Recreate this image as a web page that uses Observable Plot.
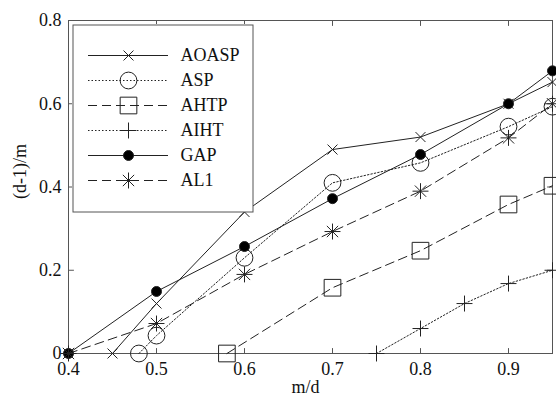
<!DOCTYPE html>
<html>
<head>
<meta charset="utf-8">
<script src="https://cdn.jsdelivr.net/npm/d3@7"></script>
<script src="https://cdn.jsdelivr.net/npm/@observablehq/plot@0.6"></script>
<style>
  body { margin: 0; background: #fff; }
  #chart { position: relative; width: 556px; height: 398px; overflow: hidden; background: #fff; }
  #legend { position: absolute; left: 72px; top: 24px; }
  svg { overflow: visible; }
  #chart svg, #chart svg text { font-family: "Liberation Serif", "Times New Roman", Tinos, "Noto Serif", "DejaVu Serif", "Nimbus Roman", FreeSerif, serif !important; font-size: 18px; }
</style>
</head>
<body>
<div id="chart"><div id="legend"></div></div>
<script>
// ---------- data ----------
const seriesNames = ["AOASP", "ASP", "AHTP", "AIHT", "GAP", "AL1"];

const mdAOASP = [0.45, 0.5, 0.6, 0.7, 0.8, 0.9, 0.95];
const valAOASP = [0, 0.12, 0.34, 0.49, 0.52, 0.60, 0.652];

const mdASP = [0.48, 0.5, 0.6, 0.7, 0.8, 0.9, 0.95];
const valASP = [0, 0.043, 0.23, 0.41, 0.458, 0.545, 0.593];

const mdAHTP = [0.58, 0.7, 0.8, 0.9, 0.95];
const valAHTP = [0, 0.158, 0.247, 0.358, 0.403];

const mdAIHT = [0.75, 0.8, 0.85, 0.9, 0.95];
const valAIHT = [0, 0.06, 0.12, 0.168, 0.2];

const mdGAP = [0.4, 0.5, 0.6, 0.7, 0.8, 0.9, 0.95];
const valGAP = [0, 0.149, 0.257, 0.372, 0.478, 0.60, 0.679];

const mdAL1 = [0.4, 0.5, 0.6, 0.7, 0.8, 0.9, 0.95];
const valAL1 = [0, 0.072, 0.19, 0.293, 0.39, 0.518, 0.60];

const xTicks = [0.4, 0.5, 0.6, 0.7, 0.8, 0.9];
const xTickLabels = ["0.4", "0.5", "0.6", "0.7", "0.8", "0.9"];
const yTicks = [0, 0.2, 0.4, 0.6, 0.8];
const yTickLabels = ["0", "0.2", "0.4", "0.6", "0.8"];
const xDomain = [0.4, 0.95];
const yDomain = [0, 0.8];
const xLabel = "m/d";
const yLabel = "(d-1)/m";

// ---------- styles ----------
const lineColor = "#222";
const frameColor = "#555";
const font = "'Liberation Serif', 'Times New Roman', Tinos, 'Noto Serif', 'DejaVu Serif', serif";
const DOT = "1.5,2";
const DASH = "9,5";

const seriesData = {
  AOASP: [mdAOASP, valAOASP],
  ASP: [mdASP, valASP],
  AHTP: [mdAHTP, valAHTP],
  AIHT: [mdAIHT, valAIHT],
  GAP: [mdGAP, valGAP],
  AL1: [mdAL1, valAL1]
};
const seriesStyle = {
  AOASP: {dash: null, markers: [{symbol: "times", r: 4.6}]},
  ASP:   {dash: DOT,  markers: [{symbol: "circle", r: 8.4}]},
  AHTP:  {dash: DASH, markers: [{symbol: "square", r: 9.4}]},
  AIHT:  {dash: DOT,  markers: [{symbol: "plus", r: 5.2}]},
  GAP:   {dash: null, markers: [{symbol: "circle", r: 5, fill: "black"}]},
  AL1:   {dash: DASH, markers: [{symbol: "plus", r: 5.2}, {symbol: "times", r: 5.2}]}
};

// ---------- main chart ----------
const tickShape = {draw(ctx, l) { ctx.moveTo(0, 0); ctx.lineTo(0, -l); }};
const marks = [];
marks.push(Plot.frame({stroke: frameColor}));
const tickOpts = {length: 5, anchor: "start", shape: tickShape, stroke: frameColor, strokeWidth: 1};
marks.push(Plot.vector(xTicks, {x: d => d, y: yDomain[0], rotate: 0, ...tickOpts}));
marks.push(Plot.vector(xTicks, {x: d => d, y: yDomain[1], rotate: 180, ...tickOpts}));
marks.push(Plot.vector(yTicks, {y: d => d, x: xDomain[0], rotate: 90, ...tickOpts}));
marks.push(Plot.vector(yTicks, {y: d => d, x: xDomain[1], rotate: -90, ...tickOpts}));

marks.push(Plot.axisX(xTicks, {tickSize: 0, tickPadding: 9, label: null,
  tickFormat: d => xTickLabels[xTicks.indexOf(d)], fill: "#111", fontFamily: font}));
marks.push(Plot.axisY(yTicks, {tickSize: 0, tickPadding: 7, label: null,
  tickFormat: d => yTickLabels[yTicks.indexOf(d)], fill: "#111", fontFamily: font}));

for (const name of seriesNames) {
  const [xs, ys] = seriesData[name];
  const rows = xs.map((x, i) => ({x, y: ys[i]}));
  const st = seriesStyle[name];
  marks.push(Plot.line(rows, {x: "x", y: "y", stroke: lineColor, strokeWidth: 1,
    strokeDasharray: st.dash || undefined}));
  for (const m of st.markers) {
    marks.push(Plot.dot(rows, {x: "x", y: "y", symbol: m.symbol, r: m.r,
      stroke: lineColor, strokeWidth: 1, fill: m.fill || "none"}));
  }
}

marks.push(Plot.text([xLabel], {frameAnchor: "bottom", dx: -5, dy: 34, lineAnchor: "middle", fontSize: 18, fontFamily: font, fill: "#111"}));
marks.push(Plot.text([yLabel], {frameAnchor: "left", rotate: -90, dx: -48, dy: 12, lineAnchor: "middle", fontSize: 18, fontFamily: font, fill: "#111"}));

const chart = Plot.plot({
  width: 556, height: 398,
  marginLeft: 68, marginRight: 4, marginTop: 20, marginBottom: 45,
  x: {domain: xDomain},
  y: {domain: yDomain},
  style: {fontFamily: font, fontSize: "18px", background: "white"},
  marks
});
document.getElementById("chart").insertBefore(chart, document.getElementById("legend"));

// ---------- legend (inside the plot, top-left) ----------
const lmarks = [Plot.frame({fill: "white", stroke: frameColor, inset: 0.5})];
for (const name of seriesNames) {
  const st = seriesStyle[name];
  lmarks.push(Plot.ruleY([name], {y: d => d, x1: 0, x2: 1, stroke: lineColor, strokeWidth: 1,
    strokeDasharray: st.dash || undefined}));
  for (const m of st.markers) {
    lmarks.push(Plot.dot([name], {x: 0.5, y: d => d, symbol: m.symbol, r: m.r,
      stroke: lineColor, strokeWidth: 1, fill: m.fill || "none"}));
  }
}
lmarks.push(Plot.text(seriesNames, {x: 1, y: d => d, dx: 12, textAnchor: "start", fontSize: 18, fontFamily: font, fill: "#111"}));
const legend = Plot.plot({
  width: 181, height: 188, margin: 0,
  x: {domain: [0, 1], range: [16, 96], axis: null},
  y: {type: "point", domain: seriesNames, range: [18, 168], axis: null},
  style: {fontFamily: font, fontSize: "18px", background: "white"},
  marks: lmarks
});
document.getElementById("legend").appendChild(legend);
</script>
</body>
</html>
